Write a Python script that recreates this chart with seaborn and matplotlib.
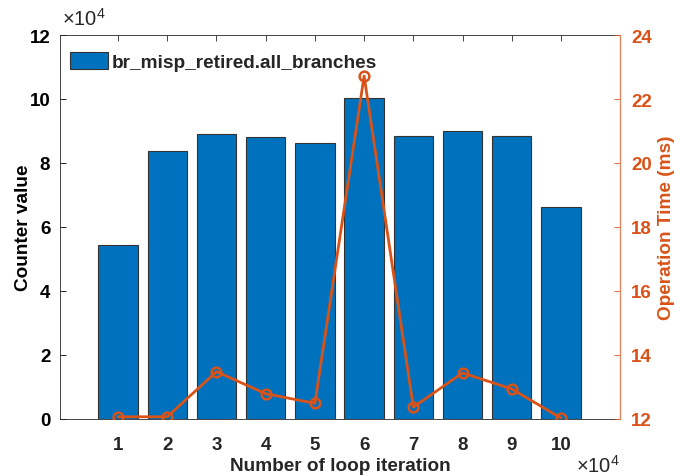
import numpy as np
import pandas as pd
import matplotlib
matplotlib.use("Agg")
import matplotlib.pyplot as plt
import seaborn as sns

# loop iterations (x 10^4)
iterations = [1, 2, 3, 4, 5, 6, 7, 8, 9, 10]
# br_misp_retired.all_branches counter (x 10^4)
counter = [5.44, 8.36, 8.90, 8.81, 8.62, 10.02, 8.85, 8.99, 8.84, 6.61]
# operation time in ms
op_time = [12.07, 12.07, 13.48, 12.79, 12.49, 22.72, 12.37, 13.44, 12.94, 12.03]

df = pd.DataFrame({"iter": iterations, "counter": counter, "time": op_time})

sns.set_style("white")
plt.rcParams["font.family"] = ["Liberation Sans", "DejaVu Sans"]
plt.rcParams["mathtext.default"] = "regular"

blue = "#0072BD"
orange = "#D95319"
dark = "#262626"

fig = plt.figure(figsize=(6.74, 4.77), dpi=100)
ax = fig.add_axes([60 / 674, 57 / 477, 560 / 674, 384 / 477])

sns.barplot(data=df, x="iter", y="counter", native_scale=True, width=0.8,
            color=blue, saturation=1, edgecolor="#333333", linewidth=0.8,
            label="br_misp_retired.all_branches", ax=ax)
ax.set_xlim(-0.18, 11.2)
ax.set_ylim(0, 12)
ax.set_yticks(range(0, 13, 2))
ax.set_xticks(iterations)
ax.set_xticklabels([str(i) for i in iterations])
ax.set_xlabel("Number of loop iteration", fontsize=13.7, fontweight="bold", color=dark,
              labelpad=3)
ax.set_ylabel("Counter value", fontsize=13.7, fontweight="bold", color="black",
              labelpad=-2)
ax.tick_params(axis="both", direction="in", length=4, labelsize=13.5, colors=dark,
               top=True, width=0.6)
ax.tick_params(axis="x", pad=12)
ax.tick_params(axis="y", pad=7, colors="black")
for lab in ax.get_xticklabels() + ax.get_yticklabels():
    lab.set_fontweight("bold")
for s in ["top", "bottom", "left"]:
    ax.spines[s].set_color("#262626")
    ax.spines[s].set_linewidth(0.6)

leg = ax.legend(loc="upper left", bbox_to_anchor=(0.018, 0.955), frameon=False,
                fontsize=13.7, handlelength=2.0, handleheight=1.0,
                borderaxespad=0, borderpad=0, handletextpad=0.2)
for t in leg.get_texts():
    t.set_fontweight("bold")

ax2 = ax.twinx()
sns.lineplot(data=df, x="iter", y="time", color=orange, linewidth=2, marker="o",
             markersize=7, markerfacecolor="none", markeredgecolor=orange,
             markeredgewidth=1.8, ax=ax2)
ax2.set_ylim(12, 24)
ax2.set_yticks(range(12, 25, 2))
ax2.set_ylabel("Operation Time (ms)", fontsize=13.7, fontweight="bold", color=orange,
               labelpad=4)
ax2.tick_params(axis="y", direction="in", length=4, labelsize=13.5, colors=orange,
                width=0.6, pad=8)
for lab in ax2.get_yticklabels():
    lab.set_fontweight("bold")
ax2.spines["right"].set_color("#E8825A")
ax2.spines["right"].set_linewidth(0.8)
for s in ["top", "bottom", "left"]:
    ax2.spines[s].set_visible(False)

fig.text(62 / 674, 1 - 19 / 477, r"$\times10^{4}$", fontsize=14.5, color=dark,
         ha="left", va="center")
fig.text(576 / 674, 1 - 466 / 477, r"$\times10^{4}$", fontsize=14.5, color=dark,
         ha="left", va="center")

fig.savefig("out.png", dpi=100)
